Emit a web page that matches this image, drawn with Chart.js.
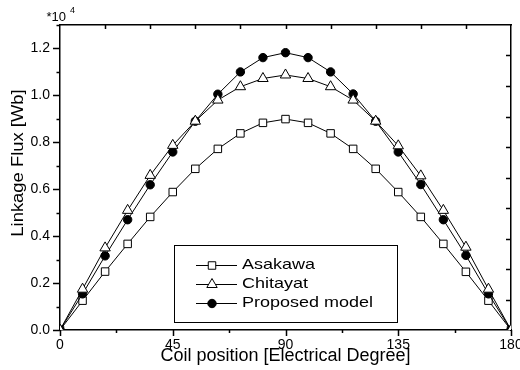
<!DOCTYPE html>
<html>
<head>
<meta charset="utf-8">
<script src="https://cdn.jsdelivr.net/npm/chart.js@4.4.1/dist/chart.umd.min.js"></script>
<style>
  html, body { margin: 0; padding: 0; background: #fff; }
  #wrap { width: 520px; height: 370px; }
</style>
</head>
<body>
<div id="wrap"><canvas id="fluxChart" width="520" height="370"></canvas></div>
<script>
// coil position, electrical degrees
const coilPosition = [0, 9, 18, 27, 36, 45, 54, 63, 72, 81, 90, 99, 108, 117, 126, 135, 144, 153, 162, 171, 180];
// linkage flux, in units of 10^4 Wb
const asakawa = [0, 0.125, 0.249, 0.367, 0.482, 0.588, 0.687, 0.772, 0.838, 0.883, 0.899, 0.883, 0.838, 0.772, 0.687, 0.588, 0.482, 0.367, 0.248, 0.125, 0];
const chitayat = [0, 0.174, 0.350, 0.510, 0.659, 0.787, 0.890, 0.980, 1.037, 1.072, 1.087, 1.072, 1.037, 0.980, 0.890, 0.785, 0.657, 0.510, 0.353, 0.174, 0];
const proposed = [0, 0.154, 0.316, 0.470, 0.619, 0.759, 0.890, 1.005, 1.100, 1.161, 1.182, 1.161, 1.100, 1.006, 0.890, 0.759, 0.620, 0.470, 0.318, 0.154, 0];

const xTickLabels = [0, 45, 90, 135, 180];
const yTickLabels = ['0.0', '0.2', '0.4', '0.6', '0.8', '1.0', '1.2'];

const FONT = '"Liberation Sans", Arial, sans-serif';

function toPoints(values) {
    return coilPosition.map((x, i) => ({ x: x, y: values[i] }));
}

// fixed box sizes so the plot frame stays put whatever the labels need
function fixSize(w, h) {
    return s => {
        if (w !== null) s.width = w;
        if (h !== null) s.height = h;
        s.paddingLeft = s.paddingRight = s.paddingTop = s.paddingBottom = 0;
    };
}

// tick marks: left/bottom point outwards, top/right point inwards
const axisTicks = {
    id: 'axisTicks',
    afterDraw(chart) {
        const { ctx } = chart;
        const { x, x2, y, y2 } = chart.scales;
        ctx.save();
        ctx.strokeStyle = '#000';
        ctx.lineWidth = 1.5;
        ctx.beginPath();
        x.ticks.forEach(t => {
            const px = Math.round(x.getPixelForValue(t.value)) + 0.5;
            const len = xTickLabels.includes(t.value) ? 6 : 3;
            ctx.moveTo(px, x.top);
            ctx.lineTo(px, x.top + len);
        });
        y.ticks.forEach(t => {
            const py = Math.round(y.getPixelForValue(t.value)) + 0.5;
            const major = yTickLabels.includes(t.value.toFixed(1));
            ctx.moveTo(y.right, py);
            ctx.lineTo(y.right - (major ? 7 : 3.5), py);
        });
        x2.ticks.forEach((t, i) => {
            if (i === 0 || i === x2.ticks.length - 1) return;
            const px = Math.round(x2.getPixelForValue(t.value)) + 0.5;
            ctx.moveTo(px, x2.bottom);
            ctx.lineTo(px, x2.bottom + 4);
        });
        y2.ticks.forEach((t, i) => {
            if (i === 0 || i === y2.ticks.length - 1) return;
            const py = Math.round(y2.getPixelForValue(t.value)) + 0.5;
            ctx.moveTo(y2.left, py);
            ctx.lineTo(y2.left - 5, py);
        });
        ctx.stroke();
        ctx.restore();
    }
};

// y-axis title and the *10^4 multiplier
const axisText = {
    id: 'axisText',
    afterDraw(chart) {
        const { ctx, chartArea } = chart;
        ctx.save();
        ctx.fillStyle = '#000';
        ctx.translate(18.5, 163);
        ctx.rotate(-Math.PI / 2);
        ctx.scale(1.15, 1);
        ctx.font = '16px ' + FONT;
        ctx.textAlign = 'center';
        ctx.textBaseline = 'middle';
        ctx.fillText('Linkage Flux [Wb]', 0, 0);
        ctx.restore();

        ctx.save();
        ctx.fillStyle = '#000';
        ctx.textBaseline = 'alphabetic';
        ctx.font = '13px ' + FONT;
        ctx.fillText('*10', chartArea.left - 13.5, 20.5);
        ctx.font = '9px ' + FONT;
        ctx.fillText('4', chartArea.left + 10, 12.5);
        ctx.restore();
    }
};

// boxed legend inside the plot
const boxLegend = {
    id: 'boxLegend',
    afterDatasetsDraw(chart) {
        const { ctx } = chart;
        const box = { left: 174.5, top: 245.5, width: 223, height: 77 };
        ctx.save();
        ctx.fillStyle = '#fff';
        ctx.fillRect(box.left, box.top, box.width, box.height);
        ctx.strokeStyle = '#000';
        ctx.lineWidth = 1;
        ctx.strokeRect(box.left, box.top, box.width, box.height);
        chart.data.datasets.forEach((ds, i) => {
            const rowY = 265 + i * 19;
            ctx.strokeStyle = '#000';
            ctx.lineWidth = 1;
            ctx.beginPath();
            ctx.moveTo(196, rowY + 0.5);
            ctx.lineTo(237, rowY + 0.5);
            ctx.stroke();
            ctx.fillStyle = ds.pointBackgroundColor;
            ctx.strokeStyle = ds.pointBorderColor;
            Chart.helpers.drawPoint(ctx, {
                pointStyle: ds.pointStyle,
                radius: ds.pointRadius,
                rotation: 0,
                borderWidth: 1
            }, 212, rowY + 0.5);
            ctx.save();
            ctx.translate(242, rowY);
            ctx.scale(1.2, 1);
            ctx.fillStyle = '#000';
            ctx.font = '15px ' + FONT;
            ctx.textBaseline = 'middle';
            ctx.fillText(ds.label, 0, 0);
            ctx.restore();
        });
        ctx.restore();
    }
};

const lineStyle = {
    showLine: true,
    borderColor: '#000',
    borderWidth: 1,
    pointBorderColor: '#000',
    pointBorderWidth: 1,
    tension: 0
};

new Chart(document.getElementById('fluxChart'), {
    type: 'scatter',
    data: {
        datasets: [
            Object.assign({
                label: 'Asakawa',
                data: toPoints(asakawa),
                pointStyle: 'rect',
                pointRadius: 5.3,
                pointBackgroundColor: '#fff',
                order: 3
            }, lineStyle),
            Object.assign({
                label: 'Chitayat',
                data: toPoints(chitayat),
                pointStyle: 'triangle',
                pointRadius: 6,
                pointBackgroundColor: '#fff',
                order: 1
            }, lineStyle),
            Object.assign({
                label: 'Proposed model',
                data: toPoints(proposed),
                pointStyle: 'circle',
                pointRadius: 4.2,
                pointBackgroundColor: '#000',
                order: 2
            }, lineStyle)
        ]
    },
    options: {
        responsive: false,
        animation: false,
        devicePixelRatio: 1,
        layout: { padding: 0, autoPadding: false },
        plugins: {
            legend: { display: false },
            tooltip: { enabled: false }
        },
        scales: {
            x: {
                type: 'linear',
                position: 'bottom',
                min: 0,
                max: 180,
                afterFit: fixSize(null, 40),
                afterBuildTicks: s => {
                    s.ticks = [];
                    for (let v = 0; v <= 180; v += 22.5) s.ticks.push({ value: v });
                },
                ticks: {
                    padding: 7,
                    autoSkip: false,
                    maxRotation: 0,
                    color: '#000',
                    font: { family: FONT, size: 14 },
                    callback: v => xTickLabels.includes(v) ? String(v) : ''
                },
                grid: { display: false, drawTicks: false },
                border: { display: true, color: '#000', width: 1.5 },
                title: {
                    display: true,
                    text: 'Coil position [Electrical Degree]',
                    color: '#000',
                    font: { family: FONT, size: 18 },
                    padding: { top: 0, bottom: 3 }
                }
            },
            x2: {
                type: 'linear',
                position: 'top',
                min: 0,
                max: 180,
                afterFit: fixSize(null, 25),
                ticks: { display: false, stepSize: 18 },
                grid: { display: false, drawTicks: false },
                border: { display: true, color: '#000', width: 1.5 }
            },
            y: {
                type: 'linear',
                position: 'left',
                min: 0,
                max: 1.3,
                afterFit: fixSize(60, null),
                ticks: {
                    stepSize: 0.1,
                    padding: 10,
                    autoSkip: false,
                    color: '#000',
                    font: { family: FONT, size: 14 },
                    callback: v => {
                        const s = v.toFixed(1);
                        return yTickLabels.includes(s) ? s : '';
                    }
                },
                grid: { display: false, drawTicks: false },
                border: { display: true, color: '#000', width: 1.5 }
            },
            y2: {
                type: 'linear',
                position: 'right',
                min: 0,
                max: 10,
                afterFit: fixSize(9, null),
                ticks: { display: false, stepSize: 1 },
                grid: { display: false, drawTicks: false },
                border: { display: true, color: '#000', width: 1.5 }
            }
        }
    },
    plugins: [axisTicks, axisText, boxLegend]
});
</script>
</body>
</html>
